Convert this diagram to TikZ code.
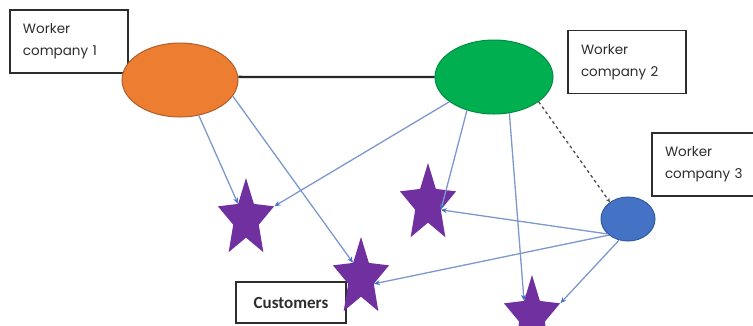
\documentclass[tikz,border=0pt]{standalone}
\usepackage{fontspec}
\setmainfont{Poppins}
\newfontfamily\custfont{Carlito}
\usetikzlibrary{shapes.geometric,arrows.meta}

\definecolor{orgfill}{RGB}{237,125,49}
\definecolor{orgline}{RGB}{175,95,45}
\definecolor{grnfill}{RGB}{0,176,80}
\definecolor{grnline}{RGB}{0,140,65}
\definecolor{blufill}{RGB}{68,114,196}
\definecolor{bluline}{RGB}{50,90,160}
\definecolor{starfill}{RGB}{112,48,160}
\definecolor{linkblue}{RGB}{125,152,205}
\definecolor{txtgray}{RGB}{45,45,45}

\def\starlist{{(246,219)/s1}, {(361,278)/s2}, {(428,204)/s3}, {(532,316)/s4}}
\tikzstyle{company}=[ellipse, draw, line width=1pt, inner sep=0pt]
\tikzstyle{customer}=[star, star points=5, star point ratio=2.2, minimum size=82pt, inner sep=0pt, fill=starfill, xscale=0.72]
\tikzstyle{label-box}=[draw=txtgray, line width=1.2pt, minimum width=118pt, minimum height=63pt, text width=92pt, align=left, inner sep=0pt, text=txtgray, font=\fontsize{13.5}{22}\selectfont]
\tikzstyle{link}=[draw=linkblue, line width=1.3pt, -{Stealth[length=6pt,width=5pt,color=blufill]}]

\begin{document}
\begin{tikzpicture}[x=1pt, y=-1pt]
  \useasboundingbox[clip] (0,0) rectangle (753,325);

  \node[label-box] (lab1) at (69,41.5) {Worker\\company 1};
  \node[label-box] (lab2) at (627,62) {Worker\\company 2};
  \node[label-box] (lab3) at (711,164.5) {Worker\\company 3};
  \node[draw=txtgray, line width=1.2pt, minimum width=110pt, minimum height=41pt, inner sep=0pt, text=txtgray, font=\custfont\bfseries\fontsize{17}{20}\selectfont] (cust) at (291,302.5) {Customers};

  \node[company, fill=orgfill, draw=orgline, minimum width=116pt, minimum height=74pt] (o) at (180,80) {};
  \node[company, fill=grnfill, draw=grnline, minimum width=118pt, minimum height=74pt] (g) at (494,77) {};
  \node[company, fill=blufill, draw=bluline, minimum width=54pt, minimum height=44pt] (b) at (628,219) {};

  \foreach \pos/\name in \starlist {
    \node[customer] (\name) at \pos {};
  }

  \path[draw, line width=2.4pt, black!85] (o.3) -- (g.180);
  \path[draw, dashed, line width=1.3pt, black!70, -{Stealth[length=4pt,width=4pt]}] (g.331) -- (b.137);

  \foreach \source/\sink in {o.-62/s1.inner point 1, o.-17/s2.inner point 1, g.209/s1.outer point 5,
      g.231/s3.inner point 4, g.293/s4.inner point 1, b.216/s3.inner point 4, b.220/s2.inner point 4,
      b.247/s4.outer point 5} {
    \path[link] (\source) -- (\sink);
  }
\end{tikzpicture}
\end{document}
